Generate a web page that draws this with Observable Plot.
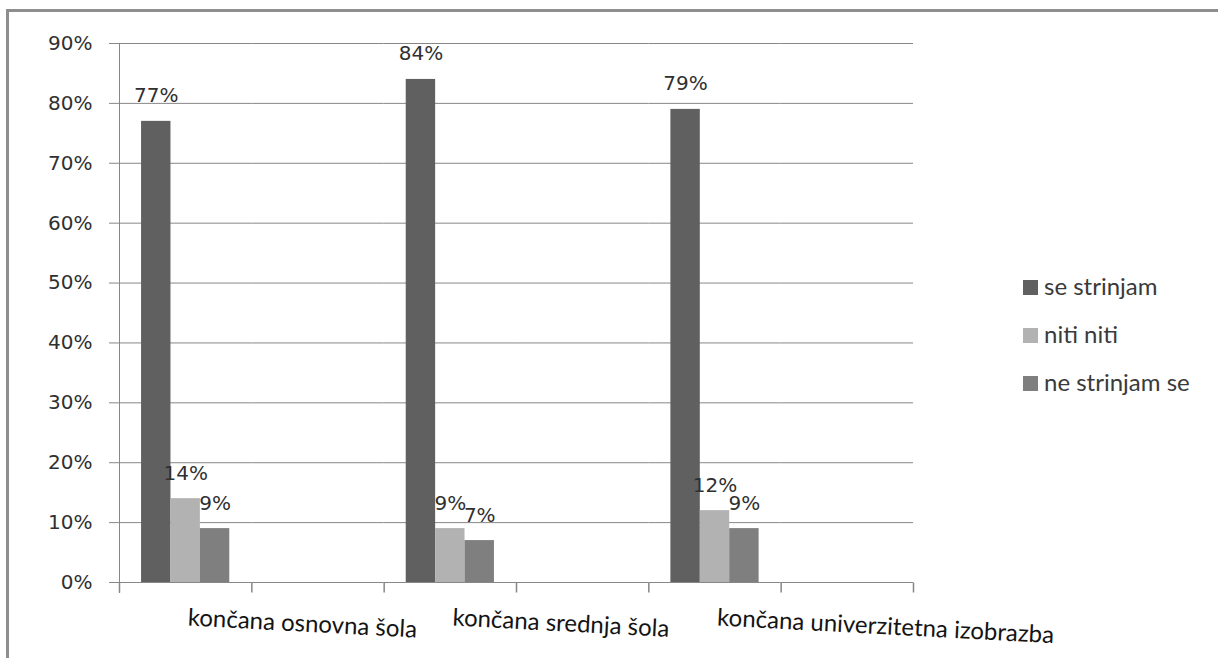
<!DOCTYPE html>
<html>
<head>
<meta charset="utf-8">
<script src="https://cdn.jsdelivr.net/npm/d3@7"></script>
<script src="https://cdn.jsdelivr.net/npm/@observablehq/plot@0.6"></script>
<style>
  body { margin: 0; background: #fff; }
  #wrap { position: relative; width: 1218px; height: 658px; overflow: hidden; background: #fff; }
  #wrap svg { position: absolute; left: 0; top: 0; }
  #border { position: absolute; left: 6px; top: 9px; right: -10px; bottom: -10px;
            border-top: 3px solid #8e8e8e; border-left: 3px solid #8e8e8e; }
  #legend { position: absolute; left: 1023px; top: 262px; font-family: Lato, sans-serif;
            font-size: 24px; color: #3a3a3a; }
  .row { line-height: 48px; height: 48px; white-space: nowrap; }
  .sw { display: inline-block; width: 15px; height: 15px; margin-right: 6px; vertical-align: baseline; }
</style>
</head>
<body>
<div id="wrap"></div>
<script>
// ---- data ----
const categories = ["končana osnovna šola", "končana srednja šola", "končana univerzitetna izobrazba"];
const series = ["se strinjam", "niti niti", "ne strinjam se"];
const seStrinjam = [77, 84, 79];
const nitiNiti = [14, 9, 12];
const neStrinjamSe = [9, 7, 9];
const yTicks = [0, 10, 20, 30, 40, 50, 60, 70, 80, 90];
const colors = ["#606060", "#b2b2b2", "#7f7f7f"];

const valuesBySeries = [seStrinjam, nitiNiti, neStrinjamSe];
const rows = categories.flatMap((c, i) =>
  series.map((s, j) => ({cat: c, series: s, value: valuesBySeries[j][i]})));
// the original axis has an empty category slot after each real category
const slots = categories.flatMap(c => [c, c + " (prazno)"]);

const gray = "#878787";
const textColor = "#303030";
const tickSymbol = {draw(ctx) { ctx.moveTo(0, 0); ctx.lineTo(0, 10); }};

const chart = Plot.plot({
  width: 1218,
  height: 658,
  marginLeft: 119,
  marginRight: 305,
  marginTop: 43,
  marginBottom: 76,
  style: {background: "transparent", fontFamily: "DejaVu Sans", fontSize: "20px", color: textColor, overflow: "visible"},
  fx: {domain: slots, padding: 0, round: false, axis: null},
  x: {domain: series, paddingInner: 0, paddingOuter: 0.75, round: false, axis: null},
  y: {domain: [0, 90], axis: null},
  color: {domain: series, range: colors},
  marks: [
    Plot.ruleY(yTicks, {stroke: gray, strokeOpacity: 1}),
    Plot.frame({facet: "super", anchor: "left", insetBottom: -10, stroke: gray}),
    Plot.axisY({ticks: yTicks, tickFormat: d => d + "%", tickSize: 10, tickPadding: 17, label: null,
                fontSize: 20, fontFamily: "DejaVu Sans", stroke: gray, fill: textColor}),
    Plot.dot(slots, {fx: d => d, x: null, y: null, frameAnchor: "bottom-left",
                     symbol: tickSymbol, stroke: gray, fill: "none"}),
    Plot.dot([slots[slots.length - 1]], {fx: d => d, x: null, y: null, frameAnchor: "bottom-right",
                     symbol: tickSymbol, stroke: gray, fill: "none"}),
    Plot.barY(rows, {fx: "cat", x: "series", y: "value", fill: "series"}),
    Plot.text(rows, {fx: "cat", x: "series", y: "value", text: d => d.value + "%",
                     lineAnchor: "bottom", dy: -19, fontSize: 20, fontFamily: "DejaVu Sans", fill: textColor}),
    Plot.text(categories, {fx: d => d, x: null, y: null, text: d => d, frameAnchor: "bottom-left",
                     textAnchor: "start", lineAnchor: "bottom", dx: 68, dy: 43, rotate: 3,
                     fontFamily: "Lato", fontSize: 24, fill: "#141414"})
  ]
});

const wrap = document.getElementById("wrap");
wrap.appendChild(chart);
const border = document.createElement("div");
border.id = "border";
wrap.appendChild(border);

const legend = document.createElement("div");
legend.id = "legend";
series.forEach((s, i) => {
  const row = document.createElement("div");
  row.className = "row";
  const sw = document.createElement("span");
  sw.className = "sw";
  sw.style.background = colors[i];
  row.appendChild(sw);
  row.appendChild(document.createTextNode(s));
  legend.appendChild(row);
});
wrap.appendChild(legend);
</script>
</body>
</html>
